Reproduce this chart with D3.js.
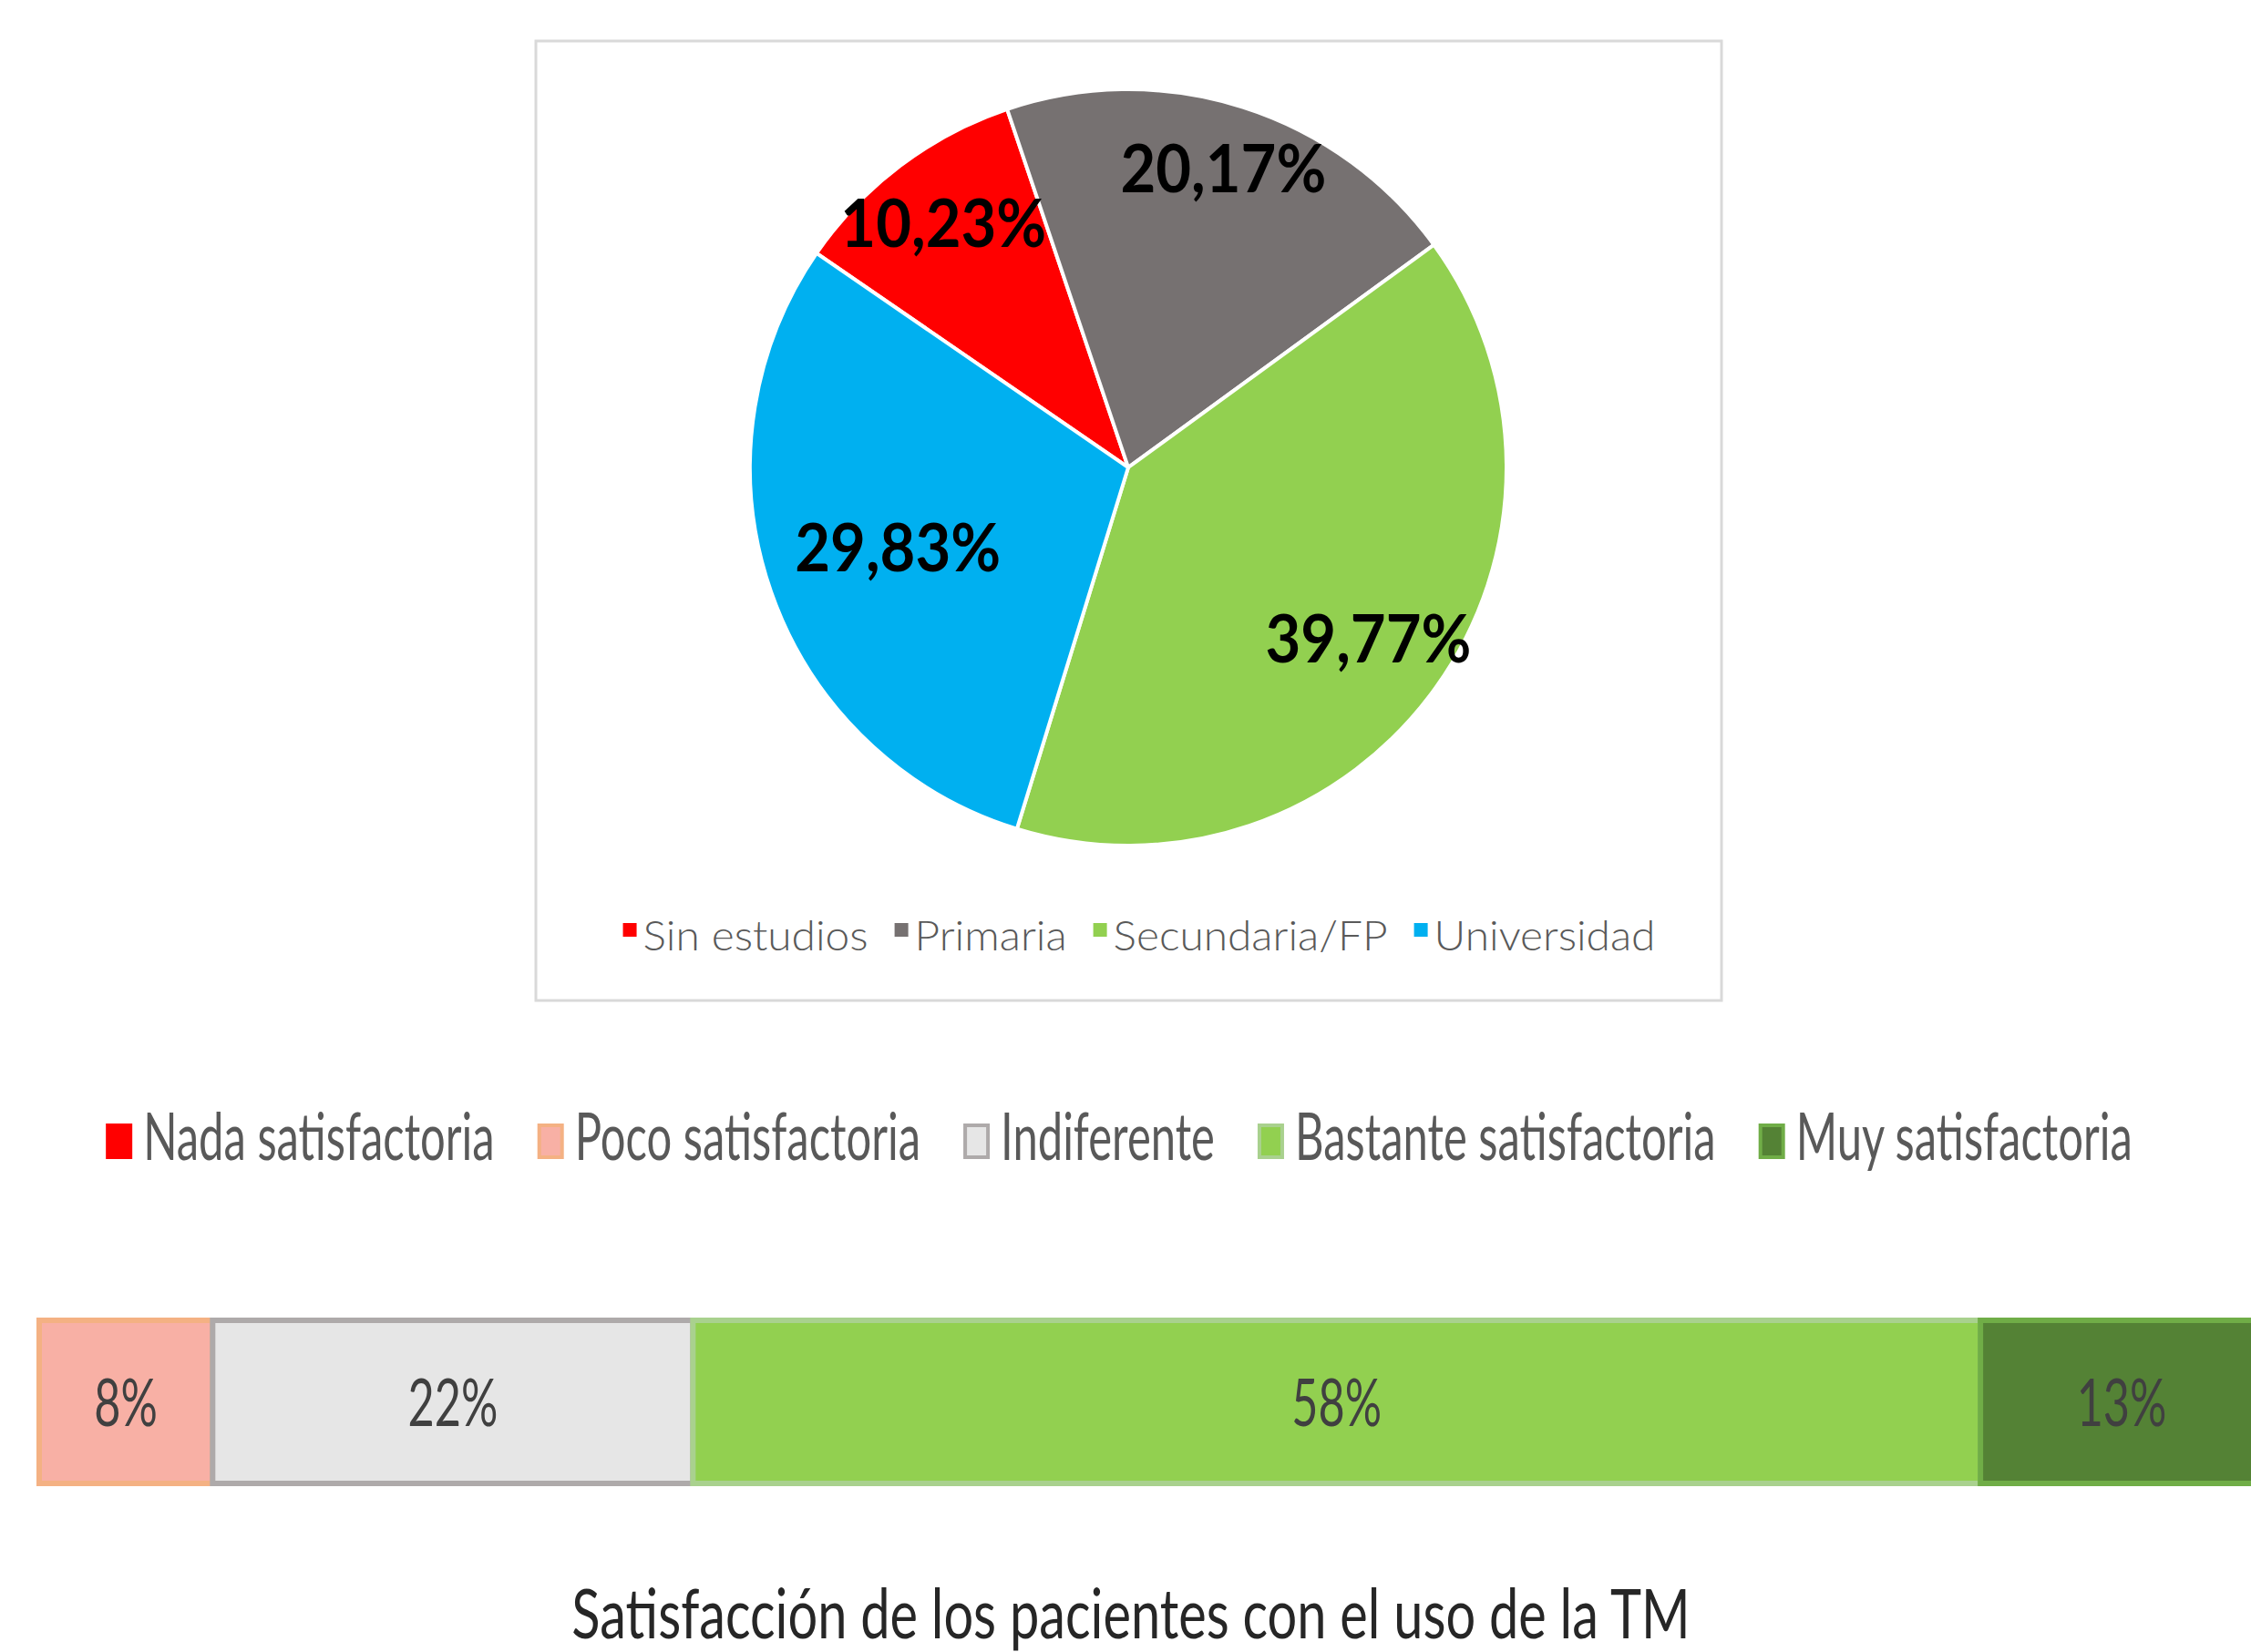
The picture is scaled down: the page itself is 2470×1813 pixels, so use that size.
<!DOCTYPE html>
<html><head><meta charset="utf-8">
<script src="https://cdn.jsdelivr.net/npm/d3@7"></script>
<style>html,body{margin:0;padding:0;background:#fff;}svg{display:block;}</style>
</head><body>
<svg id="c" width="2470" height="1813"></svg>
<script>
// ---- data ----
const eduCategories = ["Sin estudios", "Primaria", "Secundaria/FP", "Universidad"];
const eduValues = [10.23, 20.17, 39.77, 29.83];
const eduColors = ["#FF0000", "#767171", "#92D050", "#00B0F0"];

const satCategories = ["Nada satisfactoria", "Poco satisfactoria", "Indiferente", "Bastante satisfactoria", "Muy satisfactoria"];
const satValues = [0, 7.8, 21.6, 57.9, 12.7];
const satFill = ["#FF0000", "#F8B0A5", "#E6E6E6", "#92D050", "#548235"];
const satStroke = ["#FF0000", "#F4B183", "#AEAAAA", "#A9D18E", "#70AD47"];
const title = "Satisfacción de los pacientes con el uso de la TM";

const svg = d3.select("#c");
const locale = d3.formatLocale({decimal: ",", thousands: ".", grouping: [3], currency: ["", "€"]});
const fmt2 = v => locale.format(".2f")(v) + "%";
const fmt0 = v => locale.format(".0f")(v) + "%";
const FONT = "Lato, 'DejaVu Sans', sans-serif";

// text squeezed horizontally by scale k, placed at (x,y); anchor: start|middle
function sText(parent, x, y, str, size, k, fill, anchor, weight) {
  const gg = parent.append("g").attr("transform", `translate(${x},${y}) scale(${k},1)`);
  const t = gg.append("text").attr("x", 0).attr("y", 0)
    .attr("text-anchor", anchor || "start")
    .style("font-family", FONT).style("font-size", size + "px")
    .style("font-weight", weight || 400)
    .attr("fill", fill).text(str);
  return {g: gg, w: t.node().getComputedTextLength() * k};
}

// ---- pie box ----
svg.append("rect").attr("x", 588).attr("y", 45).attr("width", 1301).attr("height", 1053)
  .attr("fill", "#fff").attr("stroke", "#D9D9D9").attr("stroke-width", 3);

const cx = 1238, cy = 513, R = 415;
const start = -55.5 * Math.PI / 180;
const pie = d3.pie().sort(null).startAngle(start).endAngle(start + 2 * Math.PI);
const arcs = pie(eduValues);
const arc = d3.arc().innerRadius(0).outerRadius(R);
const g = svg.append("g").attr("transform", `translate(${cx},${cy})`);
g.selectAll("path").data(arcs).join("path")
  .attr("d", arc).attr("fill", (d, i) => eduColors[i])
  .attr("stroke", "#fff").attr("stroke-width", 4).attr("stroke-linejoin", "round");

const labelFrac = [0.81, 0.83, 0.78, 0.645];
arcs.forEach((d, i) => {
  const a = (d.startAngle + d.endAngle) / 2, r = R * labelFrac[i];
  sText(g, r * Math.sin(a), -r * Math.cos(a) + 26, fmt2(d.data), 72, 0.93, "#000", "middle", 700);
});

// pie legend
const pl = svg.append("g");
let x = 0;
eduCategories.forEach((c, i) => {
  const it = pl.append("g").attr("transform", `translate(${x},0)`);
  it.append("rect").attr("x", 0).attr("y", -30).attr("width", 15).attr("height", 15).attr("fill", eduColors[i]);
  const r = sText(it, 22, 0, c, 46, 1.04, "#595959", "start", 300);
  x += 22 + r.w + 29;
});
const plW = x - 29;
pl.attr("transform", `translate(${1250 - plW / 2},1043)`);

// ---- bar legend ----
const bl = svg.append("g");
x = 0;
satCategories.forEach((c, i) => {
  const it = bl.append("g").attr("transform", `translate(${x},0)`);
  it.append("rect").attr("x", 2).attr("y", -38).attr("width", 25).attr("height", 35)
    .attr("fill", satFill[i]).attr("stroke", satStroke[i]).attr("stroke-width", 4);
  const r = sText(it, 41, 0, c, 72, 0.68, "#595959", "start", 400);
  x += 41 + r.w + 47;
});
const blW = x - 47;
bl.attr("transform", `translate(${1228 - blW / 2},1273)`);

// ---- stacked bar ----
const xs = d3.scaleLinear().domain([0, 100]).range([43, 43 + 2440]);
const segs = [];
let acc = 0;
satValues.forEach((v, i) => { segs.push({v, i, x0: acc, x1: acc + v}); acc += v; });
const bar = svg.append("g");
const segsShown = segs.filter(s => s.v > 0);
bar.selectAll("rect").data(segsShown).join("rect")
  .attr("x", d => xs(d.x0)).attr("width", d => xs(d.x1) - xs(d.x0))
  .attr("y", 1449).attr("height", 179)
  .attr("fill", d => satFill[d.i]).attr("stroke", d => satStroke[d.i]).attr("stroke-width", 6);
segsShown.forEach(d => {
  sText(bar, xs((d.x0 + d.x1) / 2), 1565, fmt0(d.v), 72, 0.7, "#404040", "middle", 400);
});

// ---- title ----
sText(svg, 1241, 1798, title, 76, 0.76, "#262626", "middle", 400);
</script>
</body></html>
